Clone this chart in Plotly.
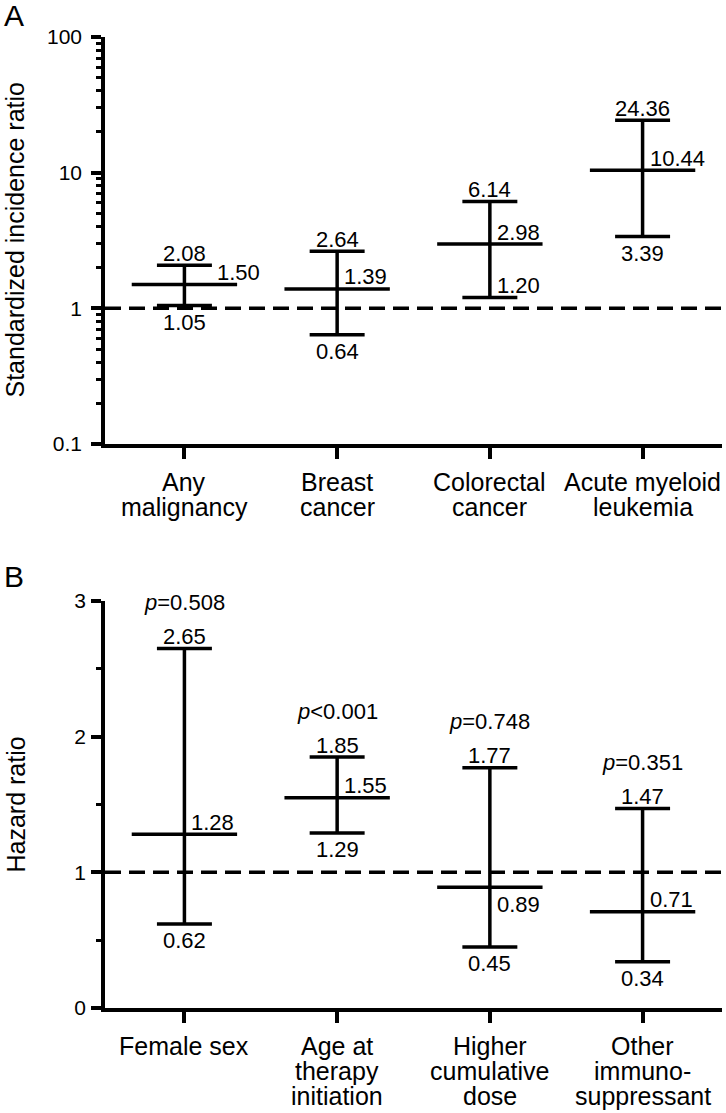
import numpy as np
import plotly.graph_objects as go

# ---------------- data ----------------
# Panel A: standardized incidence ratios
cat_a = [["Any", "malignancy"], ["Breast", "cancer"], ["Colorectal", "cancer"], ["Acute myeloid", "leukemia"]]
sir = [1.50, 1.39, 2.98, 10.44]
sir_lo = [1.05, 0.64, 1.20, 3.39]
sir_hi = [2.08, 2.64, 6.14, 24.36]
ticks_a = [0.1, 1, 10, 100]
tick_labels_a = ["0.1", "1", "10", "100"]

# Panel B: hazard ratios
cat_b = [["Female sex"], ["Age at", "therapy", "initiation"], ["Higher", "cumulative", "dose"],
         ["Other", "immuno-", "suppressant"]]
hr = [1.28, 1.55, 0.89, 0.71]
hr_lo = [0.62, 1.29, 0.45, 0.34]
hr_hi = [2.65, 1.85, 1.77, 1.47]
p_text = ["=0.508", "&lt;0.001", "=0.748", "=0.351"]
ticks_b = [0, 1, 2, 3]
tick_labels_b = ["0", "1", "2", "3"]

# label placement styles (not data)
mean_pos_a = ["cap", "line", "line", "line"]
low_pos_a = ["below", "below", "inside", "below"]
mean_pos_b = ["line", "line", "below", "line"]
low_pos_b = ["below", "below", "below", "below"]

# ---------------- layout geometry ----------------
W, H = 726, 1113
L, R, T, B = 105, 4, 37, 105
PW, PH = W - L - R, H - T - B
FONT = "Liberation Sans, Arial, sans-serif"
CAP = 0.18
MEAN = 0.345
LW = 3.5
XR = [-0.52, 3.52]


def ypap(p):
    return (H - B - p) / PH


def xpap(p):
    return (p - L) / PW


fig = go.Figure()


def add_bars(xa, ya, m, lo, hi):
    xs, ys = [], []
    for i, (mm, l, h) in enumerate(zip(m, lo, hi)):
        xs += [i, i, None, i - CAP, i + CAP, None, i - CAP, i + CAP, None, i - MEAN, i + MEAN, None]
        ys += [l, h, None, l, l, None, h, h, None, mm, mm, None]
    fig.add_trace(go.Scatter(x=xs, y=ys, xaxis=xa, yaxis=ya, mode="lines",
                             line=dict(color="black", width=LW), showlegend=False,
                             hoverinfo="skip"))
    fig.add_trace(go.Scatter(x=XR, y=[1, 1], xaxis=xa, yaxis=ya, mode="lines",
                             line=dict(color="black", width=LW, dash="16px,8px"),
                             showlegend=False, hoverinfo="skip"))


add_bars("x", "y", sir, sir_lo, sir_hi)
add_bars("x2", "y2", hr, hr_lo, hr_hi)

ann = []


def lab(text, x, y, xref, yref, xanchor="center", xshift=0, yshift=0, size=22):
    ann.append(dict(text=text, x=x, y=y, xref=xref, yref=yref, xanchor=xanchor,
                    yanchor="middle", xshift=xshift, yshift=yshift, showarrow=False,
                    font=dict(family=FONT, size=size, color="black")))


def value_labels(xref, yref, m, lo, hi, mpos, lpos, tf):
    for i in range(len(m)):
        lab(f"{hi[i]:.2f}", i, tf(hi[i]), xref, yref, yshift=12)
        if mpos[i] == "cap":
            lab(f"{m[i]:.2f}", i + CAP, tf(m[i]), xref, yref, xanchor="left", xshift=3, yshift=12)
        elif mpos[i] == "below":
            lab(f"{m[i]:.2f}", i, tf(m[i]), xref, yref, xanchor="left", xshift=5, yshift=-17)
        else:
            lab(f"{m[i]:.2f}", i, tf(m[i]), xref, yref, xanchor="left", xshift=5, yshift=12)
        if lpos[i] == "inside":
            lab(f"{lo[i]:.2f}", i, tf(lo[i]), xref, yref, xanchor="left", xshift=5, yshift=12)
        else:
            lab(f"{lo[i]:.2f}", i, tf(lo[i]), xref, yref, yshift=-17)


value_labels("x", "y", sir, sir_lo, sir_hi, mean_pos_a, low_pos_a, np.log10)
value_labels("x2", "y2", hr, hr_lo, hr_hi, mean_pos_b, low_pos_b, lambda v: v)

for i, p in enumerate(p_text):
    lab(f"<i>p</i>{p}", i, hr_hi[i], "x2", "y2", yshift=46)

# category labels
for i, lines in enumerate(cat_a):
    for k, t in enumerate(lines):
        lab(t, i, ypap(444 + 38 + 25 * k), "x", "paper", size=25)
for i, lines in enumerate(cat_b):
    for k, t in enumerate(lines):
        lab(t, i, ypap(1008 + 38 + 25 * k), "x2", "paper", size=25)

# axis titles
for txt, yc in [("Standardized incidence ratio", (37 + 444) / 2), ("Hazard ratio", (601 + 1008) / 2)]:
    ann.append(dict(text=txt, x=xpap(15), y=ypap(yc), xref="paper", yref="paper",
                    xanchor="center", yanchor="middle", textangle=-90, showarrow=False,
                    font=dict(family=FONT, size=25, color="black")))

# panel letters
for txt, yc in [("A", 16), ("B", 577)]:
    ann.append(dict(text=txt, x=xpap(2), y=ypap(yc), xref="paper", yref="paper",
                    xanchor="left", yanchor="middle", showarrow=False,
                    font=dict(family=FONT, size=30, color="black")))

minor_a = [v * 10.0 ** e for e in (-1, 0, 1) for v in range(2, 10)]

xax = dict(range=XR, showgrid=False, zeroline=False, showline=True, linewidth=3.5,
           linecolor="black", ticks="outside", ticklen=11, tickwidth=3.5, tickcolor="black",
           tickvals=[0, 1, 2, 3], showticklabels=False, fixedrange=True)
yax = dict(showgrid=False, zeroline=False, showline=True, linewidth=3.5, linecolor="black",
           ticks="outside", ticklen=10, tickwidth=3.5, tickcolor="black",
           tickfont=dict(family=FONT, size=21, color="black"), fixedrange=True)

fig.update_layout(
    width=W, height=H, margin=dict(l=L, r=R, t=T, b=B),
    paper_bgcolor="white", plot_bgcolor="white", showlegend=False,
    xaxis=dict(**xax, anchor="y", domain=[0, 1]),
    xaxis2=dict(**xax, anchor="y2", domain=[0, 1]),
    yaxis=dict(**yax, anchor="x", type="log", range=[-1, 2], domain=[ypap(444), 1],
               tickmode="array", tickvals=ticks_a, ticktext=tick_labels_a, ticklabelstandoff=5,
               minor=dict(tickmode="array", tickvals=minor_a, ticks="outside", ticklen=5,
                          tickwidth=3, tickcolor="black", showgrid=False)),
    yaxis2=dict(**yax, anchor="x2", range=[0, 3], domain=[0, ypap(601)],
                tickmode="array", tickvals=ticks_b, ticktext=tick_labels_b, ticklabelstandoff=1,
                minor=dict(tickmode="array", tickvals=[0.5, 1.5, 2.5], ticks="outside", ticklen=5,
                           tickwidth=3, tickcolor="black", showgrid=False)),
    annotations=ann,
)

fig.write_html("out.html", config={"displayModeBar": False},
               post_script="document.body.style.margin='0';document.body.style.padding='0';")
